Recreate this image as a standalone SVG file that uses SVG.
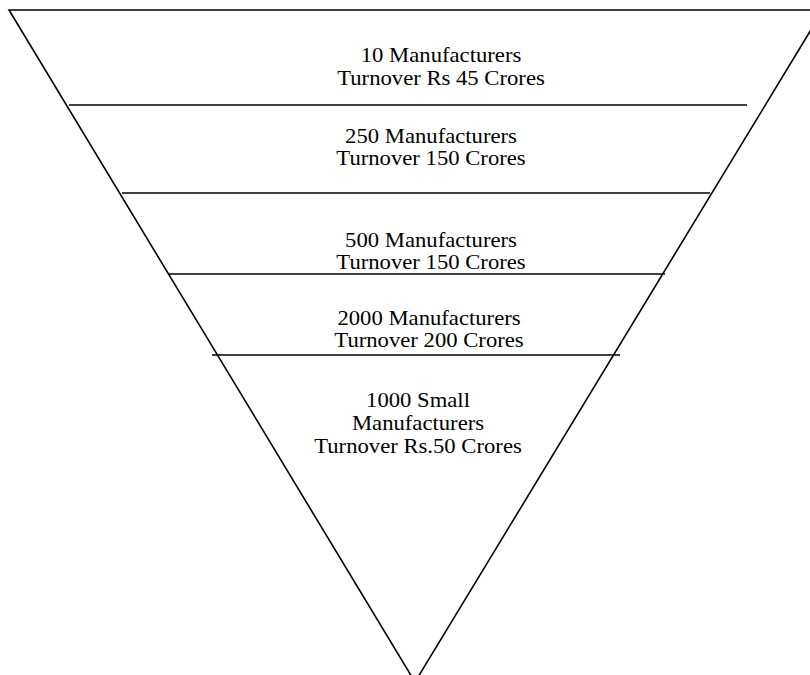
<svg xmlns="http://www.w3.org/2000/svg" width="810" height="675" viewBox="0 0 810 675">
<style>
.ln{stroke:#000;stroke-width:1.6;fill:none}
.t{font-family:"Liberation Serif","Times New Roman",serif;font-size:21px;fill:#000;text-anchor:middle}
</style>
<rect width="810" height="675" fill="#fff"/>
<g id="connectors">
<polygon class="ln" points="9,10 823,10 415,682"/>
<line class="ln" x1="69" y1="105" x2="747" y2="105"/>
<line class="ln" x1="122" y1="193" x2="710" y2="193"/>
<line class="ln" x1="168" y1="274" x2="665" y2="274"/>
<line class="ln" x1="212" y1="355" x2="620" y2="355"/>
</g>
<g id="tier1" transform="translate(441,0) scale(1.08,1)">
<text class="t" x="0" y="62">10 Manufacturers</text>
<text class="t" x="0" y="85">Turnover Rs 45 Crores</text>
</g>
<g id="tier2" transform="translate(431,0) scale(1.08,1)">
<text class="t" x="0" y="143">250 Manufacturers</text>
<text class="t" x="0" y="165">Turnover 150 Crores</text>
</g>
<g id="tier3" transform="translate(431,0) scale(1.08,1)">
<text class="t" x="0" y="247">500 Manufacturers</text>
<text class="t" x="0" y="269">Turnover 150 Crores</text>
</g>
<g id="tier4" transform="translate(429,0) scale(1.08,1)">
<text class="t" x="0" y="325">2000 Manufacturers</text>
<text class="t" x="0" y="347">Turnover 200 Crores</text>
</g>
<g id="tier5" transform="translate(418,0) scale(1.08,1)">
<text class="t" x="0" y="407">1000 Small</text>
<text class="t" x="0" y="430">Manufacturers</text>
<text class="t" x="0" y="453">Turnover Rs.50 Crores</text>
</g>
</svg>
